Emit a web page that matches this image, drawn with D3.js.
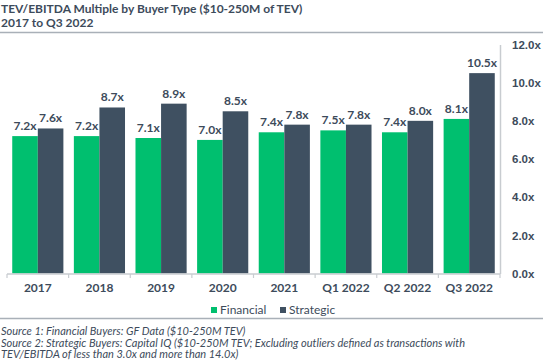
<!DOCTYPE html>
<html>
<head>
<meta charset="utf-8">
<script src="https://cdn.jsdelivr.net/npm/d3@7"></script>
<style>
  body { margin: 0; background: #fff; }
  svg { display: block; font-family: Lato, "Open Sans", sans-serif; }
</style>
</head>
<body>
<div id="chart"></div>
<script>
const categories = ["2017", "2018", "2019", "2020", "2021", "Q1 2022", "Q2 2022", "Q3 2022"];
const financial = [7.2, 7.2, 7.1, 7.0, 7.4, 7.5, 7.4, 8.1];
const strategic = [7.6, 8.7, 8.9, 8.5, 7.8, 7.8, 8.0, 10.5];
const yTicks = [0, 2, 4, 6, 8, 10, 12];
const seriesNames = ["Financial", "Strategic"];
const colors = ["#00bf6f", "#3f5061"];
const textColor = "#3d4b5b";

const w = 543, h = 362;

const svg = d3.select("#chart")
  .append("svg")
  .attr("width", w)
  .attr("height", h);

// title
svg.append("text")
  .attr("x", 1).attr("y", 13)
  .style("font-size", "12px").style("font-weight", "bold").style("fill", textColor)
  .text("TEV/EBITDA Multiple by Buyer Type ($10-250M of TEV)");
svg.append("text")
  .attr("x", 1).attr("y", 27)
  .style("font-size", "12px").style("font-weight", "bold").style("fill", textColor)
  .text("2017 to Q3 2022");

svg.append("line")
  .attr("x1", 0).attr("x2", w).attr("y1", 32.5).attr("y2", 32.5)
  .style("stroke", "#a9b0b8").style("stroke-width", 1.5);

const x = d3.scaleBand()
  .domain(categories)
  .range([7, 500])
  .paddingInner(0.17)
  .paddingOuter(0.085);

const xSub = d3.scaleBand()
  .domain(seriesNames)
  .range([0, x.bandwidth()]);

const y = d3.scaleLinear()
  .domain([0, 12])
  .range([273.5, 44.5]);

// right axis
const yAxis = svg.append("g")
  .attr("transform", "translate(500,0)")
  .call(d3.axisRight(y).tickValues(yTicks).tickSize(0).tickPadding(12).tickFormat(d => d.toFixed(1) + "x"));
yAxis.select(".domain").style("stroke", "#c8ccd0").style("stroke-width", 1.5);
yAxis.selectAll("text")
  .style("font-size", "11.5px").style("font-weight", "bold").style("fill", textColor)
  .attr("font-family", null);

// bars
const rows = categories.map((c, i) => ({cat: c, values: [financial[i], strategic[i]]}));

const groups = svg.selectAll("g.grp")
  .data(rows)
  .enter()
  .append("g")
  .attr("class", "grp")
  .attr("transform", d => "translate(" + x(d.cat) + ",0)");

groups.selectAll("rect")
  .data(d => d.values.map((v, j) => ({name: seriesNames[j], v: v, j: j})))
  .enter()
  .append("rect")
  .attr("x", d => xSub(d.name))
  .attr("width", xSub.bandwidth())
  .attr("y", d => y(d.v))
  .attr("height", d => y(0) - y(d.v))
  .style("fill", d => colors[d.j]);

groups.selectAll("text.val")
  .data(d => d.values.map((v, j) => ({name: seriesNames[j], v: v, j: j})))
  .enter()
  .append("text")
  .attr("class", "val")
  .attr("x", d => xSub(d.name) + xSub.bandwidth() / 2)
  .attr("y", d => y(d.v) - 6)
  .attr("text-anchor", "middle")
  .style("font-size", "12px").style("font-weight", "bold").style("fill", textColor)
  .text(d => d.v.toFixed(1) + "x");

// bottom axis
const bounds = categories.map(c => x(c) - x.step() * x.paddingInner() / 2);
bounds.push(500);
svg.append("line")
  .attr("x1", 7).attr("x2", 500).attr("y1", 274).attr("y2", 274)
  .style("stroke", "#c8ccd0").style("stroke-width", 1.5);
svg.selectAll("line.tick")
  .data(bounds)
  .enter()
  .append("line")
  .attr("class", "tick")
  .attr("x1", d => d).attr("x2", d => d)
  .attr("y1", 274).attr("y2", 278)
  .style("stroke", "#c8ccd0").style("stroke-width", 1.2);

svg.selectAll("text.cat")
  .data(categories)
  .enter()
  .append("text")
  .attr("class", "cat")
  .attr("x", d => x(d) + x.bandwidth() / 2)
  .attr("y", 292)
  .attr("text-anchor", "middle")
  .style("font-size", "12px").style("font-weight", "bold").style("fill", textColor)
  .text(d => d);

// legend
const legendX = [211, 280];
seriesNames.forEach((n, i) => {
  svg.append("rect")
    .attr("x", legendX[i]).attr("y", 307)
    .attr("width", 6).attr("height", 6)
    .style("fill", colors[i]);
  svg.append("text")
    .attr("x", legendX[i] + 9).attr("y", 314)
    .style("font-size", "12px").style("fill", textColor)
    .text(n);
});

svg.append("line")
  .attr("x1", 0).attr("x2", w).attr("y1", 318.5).attr("y2", 318.5)
  .style("stroke", "#a9b0b8").style("stroke-width", 1.5);

// sources
const notes = [
  "Source 1: Financial Buyers: GF Data ($10-250M TEV)",
  "Source 2: Strategic Buyers: Capital IQ ($10-250M TEV; Excluding outliers defined as transactions with",
  "TEV/EBITDA of less than 3.0x and more than 14.0x)"
];
svg.selectAll("text.note")
  .data(notes)
  .enter()
  .append("text")
  .attr("class", "note")
  .attr("x", 1)
  .attr("y", (d, i) => 335 + i * 11.5)
  .style("font-size", "11px").style("font-style", "italic").style("fill", textColor)
  .text(d => d);
</script>
</body>
</html>
